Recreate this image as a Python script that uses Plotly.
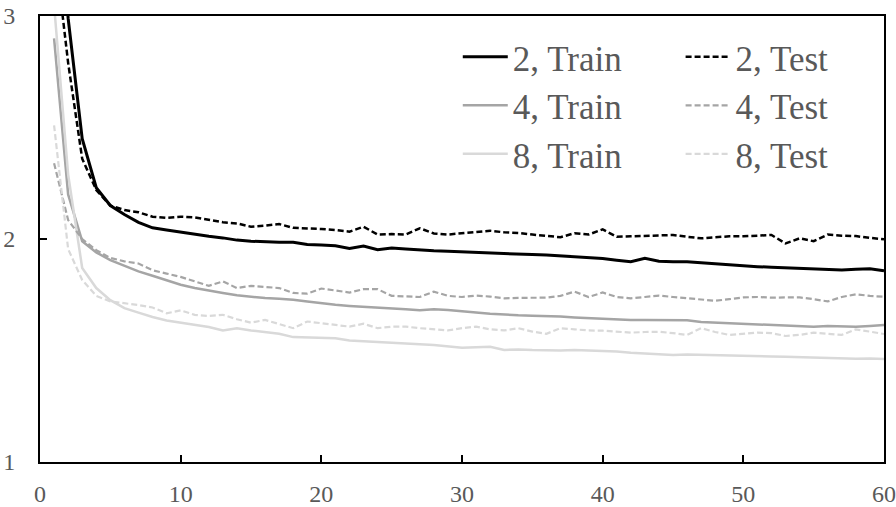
import plotly.graph_objects as go

epochs = list(range(1, 61))

train_2 = [3.80, 2.99, 2.45, 2.23, 2.15, 2.11, 2.075, 2.05, 2.04, 2.03,
           2.02, 2.012, 2.005, 1.995, 1.99, 1.987, 1.985, 1.985, 1.975, 1.973,
           1.97, 1.958, 1.968, 1.952, 1.96, 1.955, 1.95, 1.947, 1.945, 1.942,
           1.94, 1.937, 1.933, 1.932, 1.93, 1.928, 1.925, 1.922, 1.918, 1.913,
           1.905, 1.898, 1.913, 1.90, 1.898, 1.898, 1.893, 1.888, 1.884, 1.88,
           1.876, 1.873, 1.87, 1.868, 1.866, 1.864, 1.861, 1.864, 1.867, 1.858]

test_2 = [3.33, 2.79, 2.36, 2.22, 2.15, 2.13, 2.12, 2.10, 2.095, 2.10,
          2.097, 2.085, 2.075, 2.07, 2.055, 2.06, 2.067, 2.05, 2.048, 2.045,
          2.04, 2.033, 2.055, 2.02, 2.022, 2.02, 2.048, 2.025, 2.02, 2.025,
          2.03, 2.037, 2.03, 2.027, 2.02, 2.015, 2.008, 2.026, 2.02, 2.043,
          2.01, 2.012, 2.015, 2.015, 2.018, 2.01, 2.003, 2.008, 2.012, 2.012,
          2.015, 2.018, 1.98, 2.003, 1.99, 2.02, 2.015, 2.013, 2.005, 1.999]

train_4 = [2.90, 2.20, 1.99, 1.94, 1.905, 1.88, 1.855, 1.835, 1.815, 1.795,
           1.78, 1.768, 1.758, 1.748, 1.74, 1.735, 1.732, 1.728, 1.72, 1.712,
           1.705, 1.70, 1.697, 1.693, 1.69, 1.685, 1.68, 1.685, 1.682, 1.675,
           1.67, 1.665, 1.66, 1.658, 1.656, 1.655, 1.652, 1.648, 1.645, 1.645,
           1.64, 1.637, 1.637, 1.637, 1.637, 1.636, 1.628, 1.625, 1.622, 1.62,
           1.617, 1.615, 1.612, 1.608, 1.606, 1.61, 1.608, 1.607, 1.61, 1.614]

test_4 = [2.34, 2.085, 2.00, 1.95, 1.915, 1.90, 1.89, 1.86, 1.845, 1.83,
          1.81, 1.79, 1.81, 1.78, 1.79, 1.785, 1.78, 1.758, 1.755, 1.778,
          1.77, 1.76, 1.775, 1.775, 1.745, 1.742, 1.74, 1.764, 1.745, 1.74,
          1.746, 1.742, 1.734, 1.736, 1.737, 1.737, 1.745, 1.764, 1.74, 1.76,
          1.74, 1.734, 1.74, 1.746, 1.74, 1.735, 1.73, 1.723, 1.73, 1.738,
          1.74, 1.737, 1.738, 1.738, 1.73, 1.72, 1.74, 1.752, 1.745, 1.741]

train_8 = [3.05, 2.29, 1.87, 1.78, 1.726, 1.69, 1.67, 1.65, 1.635, 1.625,
           1.615, 1.605, 1.59, 1.60, 1.59, 1.583, 1.575, 1.56, 1.558, 1.557,
           1.555, 1.545, 1.54, 1.538, 1.535, 1.53, 1.528, 1.525, 1.52, 1.512,
           1.515, 1.517, 1.502, 1.505, 1.502, 1.50, 1.50, 1.502, 1.50, 1.497,
           1.495, 1.49, 1.487, 1.483, 1.48, 1.482, 1.48, 1.478, 1.477, 1.475,
           1.475, 1.473, 1.472, 1.47, 1.468, 1.465, 1.462, 1.463, 1.464, 1.462]

test_8 = [2.51, 1.955, 1.816, 1.745, 1.72, 1.713, 1.704, 1.693, 1.667, 1.68,
          1.66, 1.655, 1.66, 1.64, 1.625, 1.637, 1.62, 1.60, 1.63, 1.622,
          1.612, 1.607, 1.62, 1.60, 1.607, 1.607, 1.60, 1.595, 1.59, 1.60,
          1.607, 1.595, 1.59, 1.60, 1.585, 1.575, 1.60, 1.595, 1.59, 1.589,
          1.583, 1.58, 1.583, 1.584, 1.578, 1.57, 1.60, 1.583, 1.57, 1.575,
          1.58, 1.578, 1.565, 1.57, 1.58, 1.575, 1.57, 1.595, 1.585, 1.574]

x_ticks = [0, 10, 20, 30, 40, 50, 60]
y_ticks = [1, 2, 3]

FONT = "Liberation Serif"
TXT = "#595959"

series = [
    ("2, Train", train_2, "#000000", 3, "solid", "legend"),
    ("4, Train", train_4, "#a5a5a5", 2.5, "solid", "legend"),
    ("8, Train", train_8, "#d9d9d9", 2.5, "solid", "legend"),
    ("2, Test", test_2, "#000000", 2.5, "6px,3px", "legend2"),
    ("4, Test", test_4, "#a5a5a5", 2.2, "6px,3px", "legend2"),
    ("8, Test", test_8, "#d9d9d9", 2.2, "6px,3px", "legend2"),
]

fig = go.Figure()
for name, vals, col, w, dash, lg in series:
    fig.add_trace(go.Scatter(
        x=epochs, y=vals, mode="lines", name=name,
        line=dict(color=col, width=w, dash=dash),
        legend=lg, legendgroup=name,
    ))

legend_common = dict(
    font=dict(family=FONT, size=35, color=TXT),
    bgcolor="rgba(0,0,0,0)",
    yanchor="top", xanchor="left",
    tracegroupgap=0, itemwidth=45,
    traceorder="grouped",
)

fig.update_layout(
    width=896, height=507,
    margin=dict(l=40, r=12, t=16, b=45),
    plot_bgcolor="white", paper_bgcolor="white",
    font=dict(family=FONT, size=24, color=TXT),
    showlegend=True,
    legend=dict(x=0.495, y=0.974, **legend_common),
    legend2=dict(x=0.759, y=0.974, **legend_common),
    xaxis=dict(
        range=[0, 60], tickvals=x_ticks, ticktext=[str(v) for v in x_ticks],
        showline=True, linecolor="black", linewidth=2, mirror=True,
        ticks="inside", ticklen=7, tickwidth=2, tickcolor="black",
        showgrid=False, zeroline=False, automargin=False,
        tickfont=dict(family=FONT, size=24, color=TXT),
        ticklabelstandoff=9,
    ),
    yaxis=dict(
        range=[1, 3], tickvals=y_ticks, ticktext=[str(v) for v in y_ticks],
        showline=True, linecolor="black", linewidth=2, mirror=True,
        ticks="inside", ticklen=7, tickwidth=2, tickcolor="black",
        showgrid=False, zeroline=False, automargin=False,
        tickfont=dict(family=FONT, size=24, color=TXT),
        ticklabelstandoff=18,
    ),
)

# remove the browser's default 8px body margin so the figure fills the window
fig.write_html(
    "out.html",
    config={"displayModeBar": False},
    post_script="document.body.style.margin='0px';document.body.style.overflow='hidden';",
)
